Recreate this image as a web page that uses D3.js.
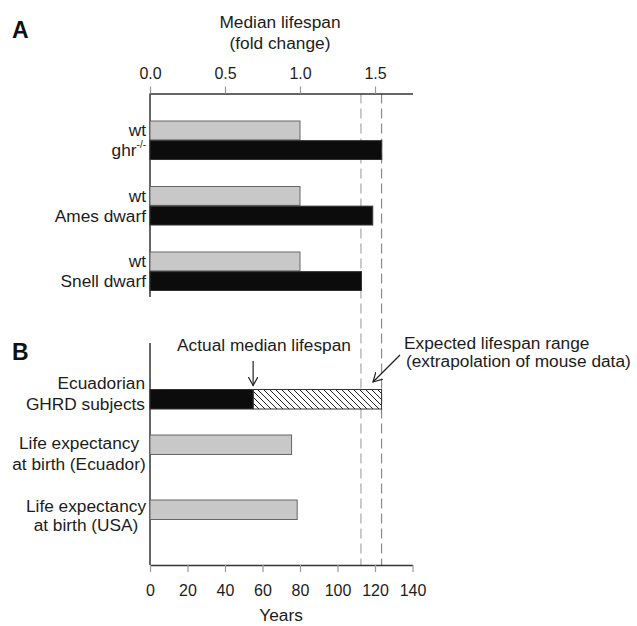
<!DOCTYPE html>
<html>
<head>
<meta charset="utf-8">
<script src="https://cdn.jsdelivr.net/npm/d3@7"></script>
<style>
  html, body { margin: 0; padding: 0; background: #fff; }
  svg { display: block; font-family: "Liberation Sans", Arial, sans-serif; }
</style>
</head>
<body>
<svg id="chart" width="637" height="626"></svg>
<script>
// ---------------- data ----------------
const foldTicks = [0.0, 0.5, 1.0, 1.5];
const yearTicks = [0, 20, 40, 60, 80, 100, 120, 140];
const groupsA = ["ghr-/-", "Ames dwarf", "Snell dwarf"];
const wtFold = [1.0, 1.0, 1.0];
const mutantFold = [1.545, 1.485, 1.41];
const categoriesB = ["Ecuadorian|GHRD subjects", "Life expectancy|at birth (Ecuador)", "Life expectancy|at birth (USA)"];
const actualYears = [55, 75.5, 78.5];
const expectedYearsMax = [123.5, null, null];
const expectedRange = [112.5, 123.5];

// ---------------- layout ----------------
const svg = d3.select("#chart");
const X0 = 150, X1 = 412.5;
const topAxisY = 93.5, bottomAxisY = 565;
const textColor = "#1c1c1c";
const FS = 17.3;

const xFold = d3.scaleLinear().domain([0, 1.75]).range([X0, X1]);
const xYears = d3.scaleLinear().domain([0, 140]).range([X0, X1]);

// hatch pattern
const defs = svg.append("defs");
const pat = defs.append("pattern").attr("id", "hatch")
  .attr("patternUnits", "userSpaceOnUse").attr("width", 6).attr("height", 6);
pat.append("rect").attr("width", 6).attr("height", 6).attr("fill", "#fff");
pat.append("path").attr("d", "M-1,-1 L7,7 M-1,5 L1,7 M5,-1 L7,1")
  .attr("stroke", "#222").attr("stroke-width", 1);

// arrow marker (open V)
defs.append("marker").attr("id", "arrow").attr("viewBox", "0 0 10 10")
  .attr("refX", 9).attr("refY", 5).attr("markerWidth", 10).attr("markerHeight", 10)
  .attr("markerUnits", "userSpaceOnUse").attr("orient", "auto")
  .append("path").attr("d", "M0,0 L9,5 L0,10").attr("fill", "none")
  .attr("stroke", "#222").attr("stroke-width", 1.2);

// panel letters
svg.append("text").attr("x", 12).attr("y", 38).text("A")
  .attr("font-size", 23).attr("font-weight", "bold").attr("fill", "#111");
svg.append("text").attr("x", 12).attr("y", 360).text("B")
  .attr("font-size", 23).attr("font-weight", "bold").attr("fill", "#111");

// top axis title
svg.append("text").attr("x", 280).attr("y", 28).attr("text-anchor", "middle")
  .attr("font-size", FS).attr("fill", textColor).text("Median lifespan");
svg.append("text").attr("x", 280).attr("y", 49).attr("text-anchor", "middle")
  .attr("font-size", FS).attr("fill", textColor).text("(fold change)");

// dashed expected lines
const dashColors = ["#a8a8a8", "#8a8a8a"];
svg.selectAll("line.dash").data(expectedRange).enter().append("line")
  .attr("class", "dash")
  .attr("x1", d => xYears(d)).attr("x2", d => xYears(d))
  .attr("y1", topAxisY).attr("y2", bottomAxisY)
  .attr("stroke", (d, i) => dashColors[i]).attr("stroke-width", 1.2)
  .attr("stroke-dasharray", "10,5");

// top axis
const topAxis = svg.append("g").attr("transform", `translate(0,${topAxisY})`)
  .call(d3.axisTop(xFold).tickValues(foldTicks).tickFormat(d3.format(".1f"))
    .tickSizeInner(7).tickSizeOuter(0).tickPadding(8));
topAxis.select(".domain").attr("stroke", "#333").attr("stroke-width", 1.5);
topAxis.selectAll(".tick line").attr("stroke", "#999").attr("stroke-width", 1.2);
topAxis.selectAll(".tick text").attr("font-size", 16).attr("fill", textColor)
  .attr("font-family", "Liberation Sans, Arial, sans-serif");

// bottom axis
const botAxis = svg.append("g").attr("transform", `translate(0,${bottomAxisY})`)
  .call(d3.axisBottom(xYears).tickValues(yearTicks).tickFormat(d3.format("d"))
    .tickSizeInner(7).tickSizeOuter(0).tickPadding(13));
botAxis.select(".domain").attr("stroke", "#333").attr("stroke-width", 1.5);
botAxis.selectAll(".tick line").attr("stroke", "#999").attr("stroke-width", 1.2);
botAxis.selectAll(".tick text").attr("font-size", 16).attr("fill", textColor)
  .attr("font-family", "Liberation Sans, Arial, sans-serif");
svg.append("text").attr("x", 281).attr("y", 621).attr("text-anchor", "middle")
  .attr("font-size", FS).attr("fill", textColor).text("Years");

// left axis lines
svg.append("line").attr("x1", X0).attr("x2", X0).attr("y1", topAxisY).attr("y2", 297)
  .attr("stroke", "#333").attr("stroke-width", 1.5);
svg.append("line").attr("x1", X0).attr("x2", X0).attr("y1", 343).attr("y2", bottomAxisY)
  .attr("stroke", "#333").attr("stroke-width", 1.5);

// ---------------- panel A ----------------
const yA = d3.scaleBand().domain(groupsA).range([121, 290.5]).paddingInner(0.412).paddingOuter(0);
const yInner = d3.scaleBand().domain(["wt", "mut"]).range([0, yA.bandwidth()]).paddingInner(0.04);

const gA = svg.append("g");
groupsA.forEach((g, i) => {
  const top = yA(g);
  gA.append("rect").attr("x", xFold(0)).attr("y", top + yInner("wt"))
    .attr("width", xFold(wtFold[i]) - xFold(0)).attr("height", yInner.bandwidth())
    .attr("fill", "#c8c8c8").attr("stroke", "#666").attr("stroke-width", 1);
  gA.append("rect").attr("x", xFold(0)).attr("y", top + yInner("mut"))
    .attr("width", xFold(mutantFold[i]) - xFold(0)).attr("height", yInner.bandwidth())
    .attr("fill", "#0c0c0c").attr("stroke", "#333").attr("stroke-width", 1);
  gA.append("text").attr("x", 146).attr("y", top + yInner("wt") + yInner.bandwidth() / 2)
    .attr("dy", "0.35em").attr("text-anchor", "end").attr("font-size", FS)
    .attr("fill", textColor).text("wt");
  const t = gA.append("text").attr("x", 146).attr("y", top + yInner("mut") + yInner.bandwidth() / 2 + 6)
    .attr("text-anchor", "end").attr("font-size", FS).attr("fill", textColor);
  const m = g.match(/^(.*?)(-\/-)$/);
  if (m) {
    t.append("tspan").text(m[1]);
    t.append("tspan").attr("font-size", 10).attr("dy", -8).text(m[2]);
  } else {
    t.text(g);
  }
});

// ---------------- panel B ----------------
const yB = d3.scaleOrdinal().domain(categoriesB).range([389.5, 435, 500]);
const barH = 19.5;
const labelLayout = [
  { x: 145, anchor: "end", dy: [-6.5, 14.5] },
  { x: 79, anchor: "middle", dy: [8, 28.5] },
  { x: 86, anchor: "middle", dy: [5.5, 25] }
];
const gB = svg.append("g");
categoriesB.forEach((c, i) => {
  const top = yB(c);
  if (expectedYearsMax[i] != null) {
    gB.append("rect").attr("x", xYears(actualYears[i])).attr("y", top)
      .attr("width", xYears(expectedYearsMax[i]) - xYears(actualYears[i])).attr("height", barH)
      .attr("fill", "url(#hatch)").attr("stroke", "#333").attr("stroke-width", 1);
    gB.append("rect").attr("x", xYears(0)).attr("y", top)
      .attr("width", xYears(actualYears[i]) - xYears(0)).attr("height", barH)
      .attr("fill", "#0c0c0c").attr("stroke", "#333").attr("stroke-width", 1);
  } else {
    gB.append("rect").attr("x", xYears(0)).attr("y", top)
      .attr("width", xYears(actualYears[i]) - xYears(0)).attr("height", barH)
      .attr("fill", "#c8c8c8").attr("stroke", "#666").attr("stroke-width", 1);
  }
  const L = labelLayout[i];
  c.split("|").forEach((line, j) => {
    gB.append("text").attr("x", L.x).attr("y", top + L.dy[j]).attr("dy", "0.35em")
      .attr("text-anchor", L.anchor).attr("font-size", FS).attr("fill", textColor).text(line);
  });
});

// annotations
svg.append("text").attr("x", 264).attr("y", 345).attr("dy", "0.35em").attr("text-anchor", "middle")
  .attr("font-size", FS).attr("fill", textColor).text("Actual median lifespan");
svg.append("line").attr("x1", xYears(actualYears[0])).attr("x2", xYears(actualYears[0]))
  .attr("y1", 361).attr("y2", 385.5).attr("stroke", "#222").attr("stroke-width", 1.2)
  .attr("marker-end", "url(#arrow)");
svg.append("text").attr("x", 404).attr("y", 342.5).attr("dy", "0.35em")
  .attr("font-size", FS).attr("fill", textColor).text("Expected lifespan range");
svg.append("text").attr("x", 406).attr("y", 361).attr("dy", "0.35em")
  .attr("font-size", FS).attr("fill", textColor).text("(extrapolation of mouse data)");
svg.append("line").attr("x1", 400).attr("y1", 355).attr("x2", 373).attr("y2", 382)
  .attr("stroke", "#222").attr("stroke-width", 1.2).attr("marker-end", "url(#arrow)");
</script>
</body>
</html>
